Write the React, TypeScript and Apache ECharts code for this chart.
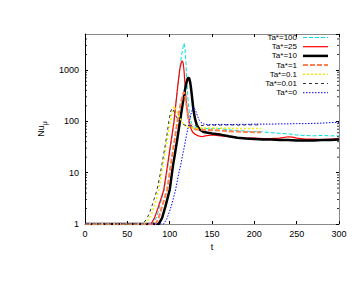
import React, { useEffect, useRef } from 'react';
import * as echarts from 'echarts';

const seriesNames = ['Ta*=100', 'Ta*=25', 'Ta*=10', 'Ta*=1', 'Ta*=0.1', 'Ta*=0.01', 'Ta*=0'];

const ta100: [number, number][] = [
  [0, 1], [80, 1], [85, 1.4], [89, 2.5], [93.5, 4.6], [98, 14], [102, 38], [105, 95], [108, 280], [110, 560],
  [112, 1100], [114, 1900], [116, 2900], [117, 3300], [118, 2700], [119, 1600], [120, 800], [121, 400], [122, 220],
  [124, 120], [126, 90], [130, 75], [135, 72], [140, 72], [150, 72], [160, 72], [170, 68], [180, 66], [190, 64],
  [200, 63], [210, 62], [220, 60], [230, 58], [240, 57], [250, 54], [260, 53], [270, 52], [280, 53], [290, 52], [300, 52],
];
const ta25: [number, number][] = [
  [0, 1], [78, 1], [82, 1.3], [86, 2], [90, 3.2], [93, 4.6], [97.5, 14], [101, 35], [105, 95], [108, 280], [110, 560],
  [112, 1050], [114, 1450], [115, 1500], [116, 1350], [117, 950], [118, 550], [119, 320], [120, 200], [122, 115],
  [124, 80], [127, 62], [130, 56], [134, 52], [138, 50], [142, 52], [150, 54], [160, 52], [170, 50], [180, 48],
  [190, 47], [200, 47], [210, 46], [220, 46], [230, 47], [240, 50], [245, 49], [250, 47], [260, 45], [270, 45],
  [280, 44], [290, 45], [300, 46],
];
const ta10: [number, number][] = [
  [0, 1], [87, 1], [91, 1.3], [95, 2.2], [100, 4.6], [104, 14], [106, 22], [109, 45], [112, 95], [115, 200],
  [118, 400], [120, 580], [121.5, 700], [123, 690], [124, 600], [125, 470], [126, 340], [127, 240], [128, 170],
  [130, 110], [132, 85], [135, 70], [140, 62], [145, 60], [150, 58], [160, 55], [170, 51], [180, 48], [190, 46],
  [200, 45], [210, 44], [220, 44], [230, 43], [240, 43], [250, 42], [260, 42], [270, 42], [280, 43], [290, 43], [300, 44],
];
const ta1: [number, number][] = [
  [0, 1], [83, 1], [87, 1.3], [91, 2.2], [97, 4.6], [100, 10], [102, 17], [105, 35], [108, 75], [111, 150],
  [114, 260], [116, 350], [117, 370], [118, 330], [119, 260], [120, 200], [122, 120], [124, 88], [127, 74],
  [130, 70], [135, 68], [140, 68], [150, 67], [160, 66], [170, 64], [180, 63], [190, 62], [200, 61], [208, 61],
];
const ta01: [number, number][] = [
  [0, 1], [71, 1], [75, 1.2], [79, 1.6], [83, 2.6], [87, 4.6], [90, 8.5], [93, 17], [96, 34], [99, 68], [102, 125],
  [104, 175], [105.5, 195], [107, 180], [109, 150], [112, 115], [115, 95], [118, 84], [122, 77], [126, 74],
  [130, 73], [140, 74], [150, 74], [160, 73], [170, 73], [180, 72], [190, 72], [200, 72], [208, 72],
];
const ta001: [number, number][] = [
  [0, 1], [68, 1], [72, 1.2], [76, 1.6], [80, 2.5], [85, 4.6], [88, 8], [91, 15], [94, 29], [97, 58], [99, 100],
  [101, 150], [102.5, 178], [104, 170], [106, 145], [108, 120], [111, 100], [114, 90], [118, 84], [122, 82],
  [130, 82], [140, 83], [150, 84], [160, 84], [170, 85], [180, 84], [190, 85], [200, 85], [208, 85],
];
const ta0: [number, number][] = [
  [0, 1], [93, 1], [97, 1.3], [101, 2], [104, 3], [107, 4.6], [110, 8.5], [113, 14], [115, 21], [117, 30],
  [120, 55], [123, 95], [125, 135], [127, 175], [128, 186], [129, 182], [131, 155], [133, 125], [135, 105],
  [137, 95], [140, 89], [145, 86], [150, 86], [160, 87], [170, 86], [180, 87], [190, 87], [200, 88], [210, 88],
  [220, 88], [230, 89], [240, 89], [250, 90], [260, 90], [270, 91], [280, 92], [290, 94], [295, 95], [300, 94],
];

const xTicks = [0, 50, 100, 150, 200, 250, 300];
const yMajorLabels = [1, 10, 100, 1000];
const yMinorTicks = [2, 3, 4, 5, 6, 7, 8, 9, 20, 30, 40, 50, 60, 70, 80, 90, 200, 300, 400, 500, 600, 700, 800, 900, 2000, 3000, 4000];

const FONT = 'Liberation Sans, Arial, Helvetica, sans-serif';

const styles = [
  { color: '#00dede', width: 1, type: [4, 2] as any },
  { color: '#ff0000', width: 1.2, type: 'solid' as any },
  { color: '#000000', width: 2.5, type: 'solid' as any },
  { color: '#ff7f50', width: 2, type: [5, 2] as any },
  { color: '#eeee00', width: 1.5, type: [2, 2] as any },
  { color: '#333333', width: 1, type: [3, 3] as any },
  { color: '#0000ff', width: 1, type: [1.5, 1.5] as any },
];

export default function App() {
  const ref = useRef<HTMLDivElement>(null);
  useEffect(() => {
    if (!ref.current) return;
    const chart = echarts.init(ref.current, undefined, { renderer: 'svg' });
    const datas = [ta100, ta25, ta10, ta1, ta01, ta001, ta0];
    const lineSeries = datas.map((d, i) => ({
      type: 'line',
      name: seriesNames[i],
      data: d,
      xAxisIndex: 0,
      yAxisIndex: 0,
      symbol: 'none',
      showSymbol: false,
      smooth: false,
      lineStyle: { color: styles[i].color, width: styles[i].width, type: styles[i].type },
      itemStyle: { color: styles[i].color },
      z: 2 + i,
    }));
    const legendX = 297;
    const legendY0 = 37.5;
    const legendDy = 9.2;
    const legendGraphics: any[] = [];
    seriesNames.forEach((n, i) => {
      const y = legendY0 + legendDy * i;
      legendGraphics.push({
        type: 'text',
        x: legendX,
        y,
        style: {
          text: n, fontSize: 8, lineHeight: 8, fontFamily: FONT, fill: '#000',
          align: 'right', verticalAlign: 'middle',
        },
        z: 100,
      });
      legendGraphics.push({
        type: 'line',
        shape: { x1: 303, y1: y, x2: 328, y2: y },
        style: {
          stroke: styles[i].color,
          lineWidth: styles[i].width,
          lineDash: Array.isArray(styles[i].type) ? styles[i].type : null,
        },
        z: 100,
      });
    });

    const baseX = {
      type: 'value',
      min: 0,
      max: 300,
      interval: 50,
      splitLine: { show: false },
      axisLine: { show: true, onZero: false, lineStyle: { color: '#888', width: 1 } },
      axisTick: { show: true, inside: true, length: 3, lineStyle: { color: '#000' } },
    };
    const baseY = {
      type: 'log',
      logBase: 10,
      min: 1,
      max: 5000,
      splitLine: { show: false },
      axisTick: { show: true, inside: true, length: 3, lineStyle: { color: '#000' } },
    };

    chart.setOption({
      animation: false,
      grid: { left: 85, right: 24, top: 34, bottom: 57, containLabel: false },
      xAxis: [
        {
          ...baseX,
          position: 'bottom',
          axisLabel: {
            fontSize: 9, fontFamily: FONT, color: '#000', margin: 5,
            formatter: (v: number) => (xTicks.includes(v) ? String(v) : ''),
          },
          name: 't',
          nameLocation: 'middle',
          nameGap: 18,
          nameTextStyle: { fontSize: 9, fontFamily: FONT, color: '#000' },
        },
        { ...baseX, position: 'top', axisLabel: { show: false } },
      ],
      yAxis: [
        {
          ...baseY,
          position: 'left',
          axisLine: { show: true, onZero: false, lineStyle: { color: '#000', width: 1 } },
          axisLabel: {
            fontSize: 9, fontFamily: FONT, color: '#000', margin: 6, showMaxLabel: false,
            formatter: (v: number) => (yMajorLabels.includes(Math.round(v)) ? String(Math.round(v)) : ''),
          },
          name: '{a|Nu}{b|μ}',
          nameLocation: 'middle',
          nameGap: 36,
          nameTextStyle: {
            fontFamily: FONT, color: '#000',
            rich: {
              a: { fontSize: 9, fontFamily: FONT, color: '#000', lineHeight: 14, padding: [0, 0, 3, 0] },
              b: { fontSize: 7, fontFamily: FONT, color: '#000', lineHeight: 14, padding: [4, 0, 0, 0] },
            },
          },
        },
        {
          ...baseY,
          position: 'right',
          axisLine: { show: true, onZero: false, lineStyle: { color: '#888', width: 1 } },
          axisLabel: { show: false },
        },
      ],
      series: [
        ...lineSeries,
        {
          type: 'custom',
          name: 'minorTicks',
          xAxisIndex: 0,
          yAxisIndex: 0,
          silent: true,
          clip: false,
          z: 50,
          data: yMinorTicks.map((v) => [0, v]),
          encode: { x: 0, y: 1 },
          renderItem: (_p: any, api: any) => {
            const v = api.value(1);
            const l = api.coord([0, v]);
            const r = api.coord([300, v]);
            return {
              type: 'group',
              children: [
                { type: 'line', shape: { x1: l[0], y1: l[1], x2: l[0] + 2, y2: l[1] }, style: { stroke: '#000', lineWidth: 0.8 } },
                { type: 'line', shape: { x1: r[0] - 2, y1: r[1], x2: r[0], y2: r[1] }, style: { stroke: '#000', lineWidth: 0.8 } },
              ],
            };
          },
        },
      ],
      graphic: legendGraphics,
    } as any);
    return () => chart.dispose();
  }, []);
  return <div ref={ref} style={{ position: 'absolute', left: 0, top: 0, width: 363, height: 281 }} />;
}
